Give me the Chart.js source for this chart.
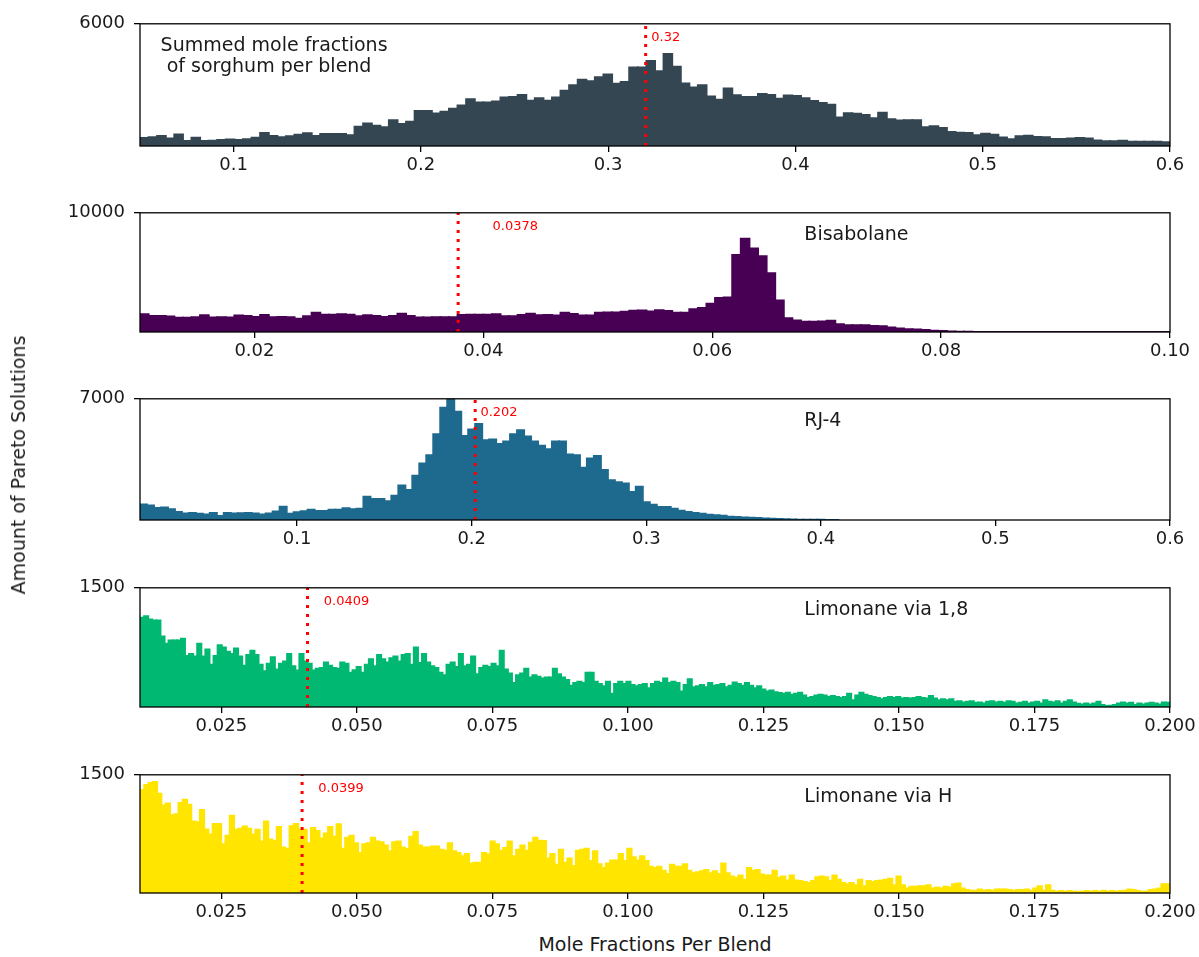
<!DOCTYPE html>
<html>
<head>
<meta charset="utf-8">
<title>Mole fractions per blend – Pareto solutions</title>
<script src="https://cdn.jsdelivr.net/npm/chart.js@4.4.1/dist/chart.umd.min.js"></script>
<style>
  html, body { margin: 0; padding: 0; background: #fff; }
  #fig { position: relative; width: 1199px; height: 957px; overflow: hidden;
         font-family: 'DejaVu Sans', sans-serif; color: #1a1a1a; background: #fff; }
  #fig canvas { position: absolute; left: 0; }
  .ylab { position: absolute; left: 18px; top: 465px; white-space: nowrap; font-size: 19px;
          transform: translate(-50%, -50%) rotate(-90deg); }
  .xlab { position: absolute; left: 655px; top: 944px; white-space: nowrap; font-size: 19px;
          transform: translate(-50%, -50%); }
</style>
</head>
<body>
<div id="fig">
  <canvas id="p1"></canvas>
  <canvas id="p2"></canvas>
  <canvas id="p3"></canvas>
  <canvas id="p4"></canvas>
  <canvas id="p5"></canvas>
  <div class="ylab">Amount of Pareto Solutions</div>
  <div class="xlab">Mole Fractions Per Blend</div>
</div>
<script>
'use strict';

// ── Data ─────────────────────────────────────────────────────────────────
// Summed sorghum fractions: 120 bins over 0.05–0.6
const SORGHUM_RANGE = [0.05, 0.6];
const SORGHUM_COUNTS = [
  397, 430, 490, 365, 570, 240, 400, 240, 255, 300,
  320, 300, 335, 410, 635, 490, 430, 475, 555, 620,
  490, 585, 585, 585, 525, 950, 1110, 1000, 920, 1270,
  1080, 1190, 1715, 1715, 1600, 1680, 1825, 1985, 2300, 2140,
  2140, 2190, 2380, 2400, 2510, 2220, 2350, 2220, 2380, 2710,
  2985, 3250, 3175, 3380, 3510, 3060, 3140, 3860, 3860, 4174,
  3666, 4523, 3888, 3063, 2873, 2984, 2428, 2270, 2825, 2492,
  2412, 2412, 2555, 2508, 2317, 2476, 2460, 2349, 2206, 2111,
  2031, 1397, 1603, 1587, 1524, 1365, 1635, 1317, 1254, 1270,
  1270, 920, 968, 889, 682, 651, 635, 524, 603, 555,
  413, 333, 476, 508, 444, 428, 349, 349, 365, 397,
  365, 270, 238, 238, 254, 206, 206, 206, 206, 190
];
const SORGHUM_TICKS = [0.1, 0.2, 0.3, 0.4, 0.5, 0.6];
const SORGHUM_TICK_LABELS = ['0.1', '0.2', '0.3', '0.4', '0.5', '0.6'];
const SORGHUM_YMAX = 6000;
const SORGHUM_MARK = 0.32;

// Bisabolane: 120 bins over 0.01–0.10
const BISABOLANE_RANGE = [0.01, 0.1];
const BISABOLANE_COUNTS = [
  1480, 1350, 1350, 1290, 1185, 1185, 1240, 1400, 1210, 1240,
  1210, 1375, 1350, 1265, 1430, 1240, 1265, 1240, 1105, 1320,
  1615, 1455, 1455, 1480, 1455, 1320, 1400, 1350, 1265, 1350,
  1535, 1350, 1210, 1210, 1240, 1240, 1240, 1430, 1455, 1455,
  1455, 1480, 1320, 1320, 1430, 1535, 1400, 1430, 1375, 1615,
  1510, 1375, 1375, 1615, 1645, 1645, 1700, 1780, 1805, 1730,
  1830, 1755, 1615, 1615, 1915, 2020, 2370, 2855, 2885, 6470,
  7815, 7010, 6360, 4930, 2640, 1160, 970, 860, 860, 890,
  945, 645, 565, 565, 565, 510, 485, 375, 295, 240,
  215, 160, 110, 80, 50, 30, 20, 10, 5, 0,
  0, 0, 0, 0, 0, 0, 0, 0, 0, 0,
  0, 0, 0, 0, 0, 0, 0, 0, 0, 0
];
const BISABOLANE_TICKS = [0.02, 0.04, 0.06, 0.08, 0.10];
const BISABOLANE_TICK_LABELS = ['0.02', '0.04', '0.06', '0.08', '0.10'];
const BISABOLANE_YMAX = 10000;
const BISABOLANE_MARK = 0.0378;

// RJ-4: bins of 0.004 starting at 0.01 (axis runs to 0.6)
const RJ4_RANGE = [0.01, 0.6];
const RJ4_BIN_START = 0.01;
const RJ4_BIN_WIDTH = 0.004;
const RJ4_COUNTS = [
  896, 840, 690, 728, 616, 467, 373, 411, 355, 317,
  411, 224, 411, 373, 392, 411, 373, 317, 373, 485,
  765, 355, 448, 504, 597, 523, 523, 597, 597, 672,
  616, 653, 1344, 1213, 1213, 1083, 1400, 1997, 1736, 2557,
  3267, 3733, 4947, 6478, 6963, 6253, 4853, 5227, 5544, 4611,
  4648, 4387, 4536, 4947, 5190, 4816, 4536, 4293, 4088, 4536,
  4536, 3790, 3733, 3024, 3547, 3696, 2893, 2296, 2184, 2109,
  1624, 1923, 1027, 880, 747, 747, 653, 541, 467, 411,
  355, 299, 280, 243, 187, 168, 150, 130, 110, 90,
  70, 55, 40, 30, 20, 15, 10, 8, 5, 3
];
const RJ4_TICKS = [0.1, 0.2, 0.3, 0.4, 0.5, 0.6];
const RJ4_TICK_LABELS = ['0.1', '0.2', '0.3', '0.4', '0.5', '0.6'];
const RJ4_YMAX = 7000;
const RJ4_MARK = 0.202;

// Limonane via 1,8: fine bins over 0.01–0.2
const LIM18_RANGE = [0.01, 0.2];
const LIM18_COUNTS = [
  1122, 1142, 1102, 1089, 1089, 886, 797, 837, 837, 837,
  858, 642, 667, 634, 797, 634, 724, 533, 642, 776,
  748, 695, 667, 736, 634, 520, 654, 707, 654, 533,
  451, 545, 626, 472, 545, 573, 667, 512, 459, 667,
  573, 545, 459, 480, 492, 561, 520, 492, 480, 561,
  545, 431, 463, 504, 431, 533, 602, 512, 654, 602,
  561, 614, 634, 573, 654, 667, 533, 748, 553, 667,
  561, 512, 492, 431, 398, 533, 561, 504, 667, 512,
  533, 634, 411, 492, 520, 504, 545, 512, 707, 472,
  423, 301, 398, 423, 480, 370, 398, 382, 358, 370,
  370, 480, 411, 370, 341, 268, 301, 317, 301, 431,
  431, 317, 289, 260, 317, 167, 289, 317, 289, 317,
  276, 260, 276, 289, 236,
  289, 317, 301, 358, 301, 317, 301, 195, 276, 350,
  248, 260, 276, 248, 301, 268, 276, 289, 248, 268,
  309, 289, 268, 301, 268, 236, 260, 220, 195, 207,
  187, 175, 167, 179, 154, 167, 179, 146, 114, 126,
  146, 154, 146, 126, 138, 126, 114, 126, 167, 85,
  146, 179, 154, 138, 126, 114, 98, 114, 126, 114,
  126, 106, 114, 106, 114, 126, 114, 106, 138, 106,
  85, 98, 85, 98, 65, 73, 57, 65, 73, 53,
  57, 45, 65, 73, 57, 65, 53, 73, 65, 45,
  53, 65, 45, 57, 65, 45, 85, 65, 57, 73,
  45, 65, 85, 57, 41, 33, 45, 33, 45, 65,
  24, 12, 16, 24, 45, 57, 45, 53, 24, 45,
  33, 45, 53, 45, 33, 57, 53
];
const LIM18_TICKS = [0.025, 0.05, 0.075, 0.1, 0.125, 0.15, 0.175, 0.2];
const LIM18_TICK_LABELS = ['0.025', '0.050', '0.075', '0.100', '0.125', '0.150', '0.175', '0.200'];
const LIM18_YMAX = 1500;
const LIM18_MARK = 0.0409;

// Limonane via H: fine bins over 0.01–0.2
const LIMH_RANGE = [0.01, 0.2];
const LIMH_COUNTS = [
  1307, 1369, 1397, 1410, 1258, 1111, 1135, 988, 1000, 1143,
  1184, 1119, 906, 897, 1053, 807, 742, 877, 877, 619,
  725, 979, 803, 815, 844, 815, 742, 803, 652, 906,
  680, 660, 836, 578, 561, 848, 877, 803, 803, 631,
  824, 787, 693, 754, 836, 713, 873, 561, 701, 725,
  631, 508, 619, 631, 701, 652, 643, 602, 529, 643,
  652, 578, 557, 713, 775, 602, 578, 578, 590, 590,
  549, 537, 631, 529, 508, 467, 496, 373, 385, 385,
  508, 488, 652, 619, 537, 570, 652, 467, 549, 602,
  537, 639, 701, 664, 660, 438, 496, 357, 549, 385,
  438, 344, 537, 549, 561, 406, 529, 365, 316, 373,
  414, 414, 496, 406, 561, 455, 414,
  467, 406, 332, 316, 332, 283, 242, 357, 332, 332,
  365, 283, 250, 262, 275, 291, 250, 275, 242, 373,
  250, 209, 193, 221, 168, 316, 283, 291, 234, 221,
  221, 283, 193, 209, 160, 221, 160, 152, 139, 127,
  152, 201, 209, 201, 152, 221, 168, 127, 111, 127,
  98, 168, 86, 152, 139, 152, 160, 168, 180, 98,
  209, 98, 57, 78, 78, 86, 86, 98, 57, 70,
  57, 78, 70, 111, 119, 57, 37, 29, 29, 45,
  29, 37, 29, 45, 45, 45, 37, 29, 37, 37,
  45, 29, 57, 86, 29, 98, 29, 16, 25, 16,
  25, 16, 16, 16, 25, 16, 25, 16, 29, 16,
  25, 16, 25, 29, 45, 37, 25, 16, 16, 37,
  45, 57, 111, 111
];
const LIMH_TICKS = [0.025, 0.05, 0.075, 0.1, 0.125, 0.15, 0.175, 0.2];
const LIMH_TICK_LABELS = ['0.025', '0.050', '0.075', '0.100', '0.125', '0.150', '0.175', '0.200'];
const LIMH_YMAX = 1500;
const LIMH_MARK = 0.0399;

// ── Look ─────────────────────────────────────────────────────────────────
const FONT = "'DejaVu Sans', sans-serif";
const INK = '#1a1a1a';
const RED = '#ff0000';

// histogram counts -> {x: bin centre, y: count}
const toBins = (counts, start, width) =>
  counts.map((c, i) => ({ x: start + (i + 0.5) * width, y: c }));

// frame + median label + panel name
const panelDecor = {
  id: 'panelDecor',
  afterDatasetsDraw(chart, args, opts) {
    const { ctx, chartArea: a, scales: { x } } = chart;
    ctx.save();
    ctx.strokeStyle = '#000';
    ctx.lineWidth = 1.3;
    ctx.strokeRect(a.left, a.top, a.right - a.left, a.bottom - a.top);

    ctx.textBaseline = 'middle';
    ctx.textAlign = 'left';
    ctx.fillStyle = RED;
    ctx.font = `13px ${FONT}`;
    ctx.fillText(opts.markLabel, x.getPixelForValue(opts.mark + 0.003), a.top + 14);

    ctx.fillStyle = INK;
    ctx.font = `19px ${FONT}`;
    const nx = a.left + opts.nameAt * (a.right - a.left);
    opts.name.forEach((line, i) => ctx.fillText(line, nx, a.top + 22 + i * 21));
    ctx.restore();
  }
};

const makePanel = (p) => {
  const canvas = document.getElementById(p.id);
  const padTop = 16, axisH = 36;
  const h = padTop + (p.bottom - p.top) + axisH;
  canvas.width = 1199;
  canvas.height = h;
  canvas.style.top = (p.top - padTop) + 'px';
  canvas.style.width = '1199px';
  canvas.style.height = h + 'px';

  const tickFont = { family: FONT, size: 18 };
  const gridOpts = { offset: false, drawOnChartArea: false, drawTicks: true, tickLength: 6, color: '#000', lineWidth: 1.3 };

  return new Chart(canvas.getContext('2d'), {
    type: 'bar',
    data: {
      datasets: [
        {
          type: 'line',
          data: [{ x: p.mark, y: 0 }, { x: p.mark, y: p.ymax }],
          borderColor: RED,
          borderWidth: 3,
          borderDash: [3, 6],
          pointRadius: 0,
          order: 0,
        },
        {
          type: 'bar',
          data: p.bins,
          backgroundColor: p.color,
          borderWidth: 0,
          inflateAmount: 1,
          barPercentage: 1,
          categoryPercentage: 1,
          grouped: false,
          order: 1,
        },
      ],
    },
    options: {
      responsive: false,
      animation: false,
      events: [],
      layout: { padding: { top: padTop, right: 29, left: 0, bottom: 0 } },
      plugins: {
        legend: { display: false },
        tooltip: { enabled: false },
        panelDecor: { mark: p.mark, markLabel: String(p.mark), name: p.name, nameAt: p.nameAt },
      },
      scales: {
        x: {
          type: 'linear',
          min: p.range[0],
          max: p.range[1],
          offset: false,
          afterBuildTicks: (s) => { s.ticks = p.ticks.map(v => ({ value: v })); },
          afterFit: (s) => { s.height = axisH; },
          grid: gridOpts,
          border: { display: false },
          ticks: {
            autoSkip: false, maxRotation: 0, padding: 3, color: INK, font: tickFont,
            callback: (v, i) => p.tickLabels[i],
          },
        },
        y: {
          min: 0,
          max: p.ymax,
          afterBuildTicks: (s) => { s.ticks = [{ value: p.ymax }]; },
          afterFit: (s) => { s.width = 140; },
          grid: gridOpts,
          border: { display: false },
          ticks: { padding: 9, color: INK, font: tickFont, callback: () => String(p.ymax) },
        },
      },
    },
    plugins: [panelDecor],
  });
};

const PANELS = [
  { id: 'p1', top: 20, bottom: 146, color: '#344652',
    bins: toBins(SORGHUM_COUNTS, SORGHUM_RANGE[0], (SORGHUM_RANGE[1] - SORGHUM_RANGE[0]) / SORGHUM_COUNTS.length),
    range: SORGHUM_RANGE, ticks: SORGHUM_TICKS, tickLabels: SORGHUM_TICK_LABELS,
    ymax: SORGHUM_YMAX, mark: SORGHUM_MARK,
    name: ['Summed mole fractions', ' of sorghum per blend'], nameAt: 0.02 },
  { id: 'p2', top: 209, bottom: 332, color: '#470053',
    bins: toBins(BISABOLANE_COUNTS, BISABOLANE_RANGE[0], (BISABOLANE_RANGE[1] - BISABOLANE_RANGE[0]) / BISABOLANE_COUNTS.length),
    range: BISABOLANE_RANGE, ticks: BISABOLANE_TICKS, tickLabels: BISABOLANE_TICK_LABELS,
    ymax: BISABOLANE_YMAX, mark: BISABOLANE_MARK, name: ['Bisabolane'], nameAt: 0.645 },
  { id: 'p3', top: 395, bottom: 520, color: '#1e6a8f',
    bins: toBins(RJ4_COUNTS, RJ4_BIN_START, RJ4_BIN_WIDTH),
    range: RJ4_RANGE, ticks: RJ4_TICKS, tickLabels: RJ4_TICK_LABELS,
    ymax: RJ4_YMAX, mark: RJ4_MARK, name: ['RJ-4'], nameAt: 0.645 },
  { id: 'p4', top: 584, bottom: 707, color: '#00b871',
    bins: toBins(LIM18_COUNTS, LIM18_RANGE[0], (LIM18_RANGE[1] - LIM18_RANGE[0]) / LIM18_COUNTS.length),
    range: LIM18_RANGE, ticks: LIM18_TICKS, tickLabels: LIM18_TICK_LABELS,
    ymax: LIM18_YMAX, mark: LIM18_MARK, name: ['Limonane via 1,8'], nameAt: 0.645 },
  { id: 'p5', top: 771, bottom: 893, color: '#ffe500',
    bins: toBins(LIMH_COUNTS, LIMH_RANGE[0], (LIMH_RANGE[1] - LIMH_RANGE[0]) / LIMH_COUNTS.length),
    range: LIMH_RANGE, ticks: LIMH_TICKS, tickLabels: LIMH_TICK_LABELS,
    ymax: LIMH_YMAX, mark: LIMH_MARK, name: ['Limonane via H'], nameAt: 0.645 },
];

PANELS.forEach(makePanel);
</script>
</body>
</html>
